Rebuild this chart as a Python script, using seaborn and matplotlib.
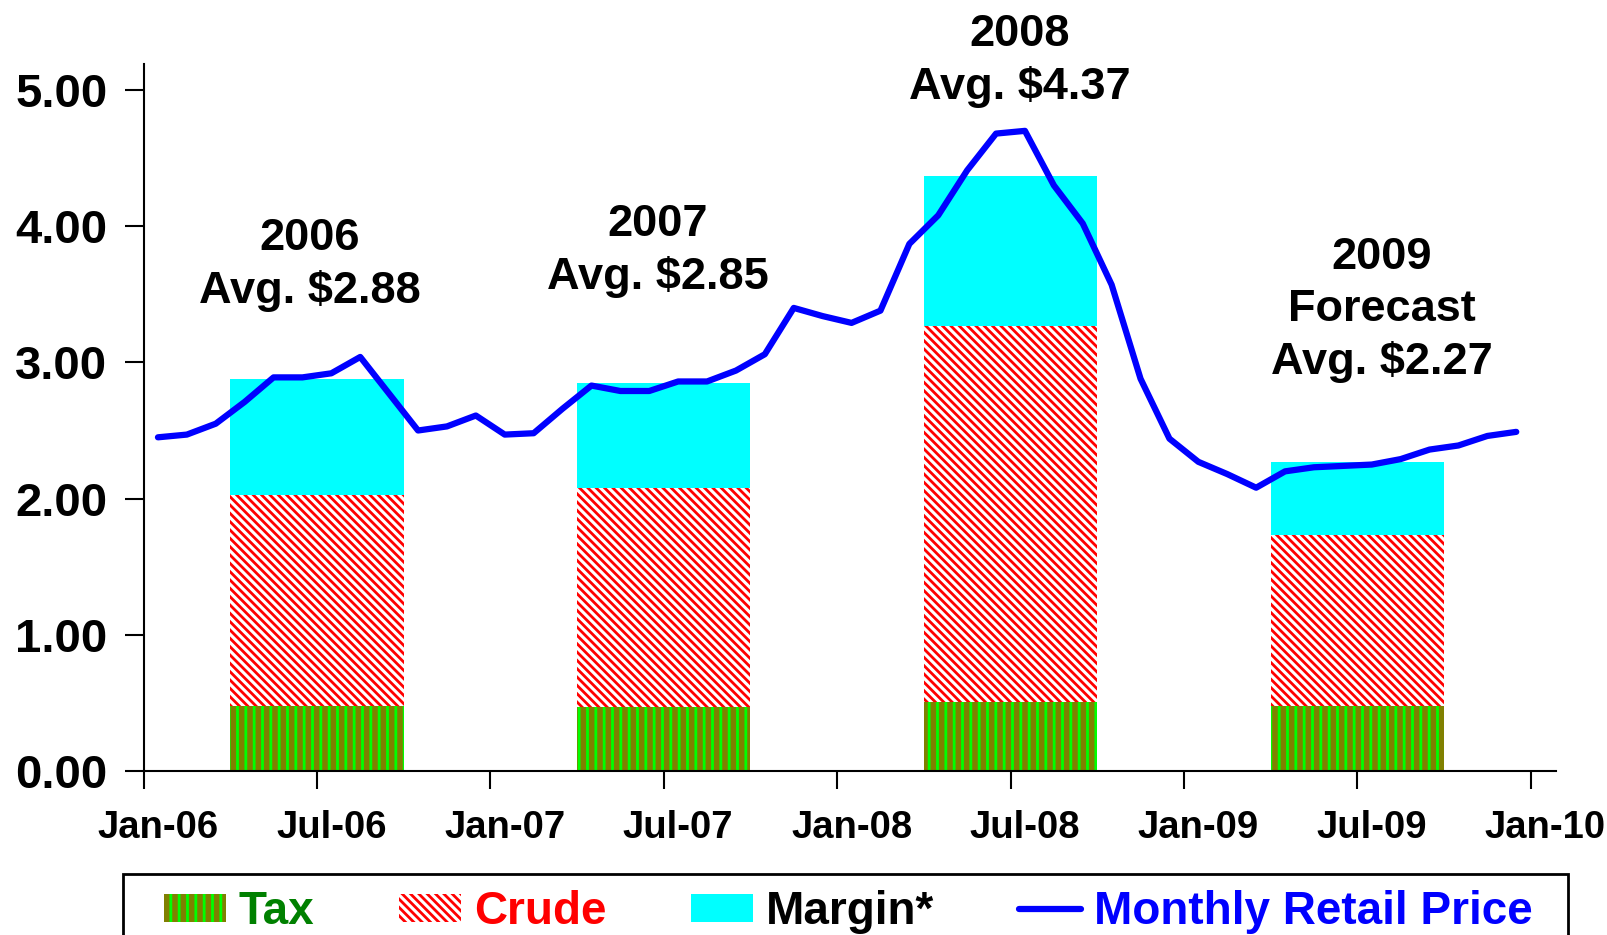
import numpy as np
import pandas as pd
import seaborn as sns
import matplotlib.pyplot as plt
from matplotlib.patches import Patch, Rectangle
from matplotlib.lines import Line2D

# monthly retail price, Jan-06 .. Dec-09
months = pd.date_range('2006-01-01', periods=48, freq='MS')
price = [2.45, 2.47, 2.55, 2.71, 2.89, 2.89, 2.92, 3.04, 2.77, 2.50, 2.53, 2.61,
         2.47, 2.48, 2.66, 2.83, 2.79, 2.79, 2.86, 2.86, 2.94, 3.06, 3.40, 3.34,
         3.29, 3.38, 3.87, 4.08, 4.41, 4.68, 4.70, 4.30, 4.02, 3.57, 2.88, 2.44,
         2.27, 2.18, 2.08, 2.20, 2.23, 2.24, 2.25, 2.29, 2.36, 2.39, 2.46, 2.49]

# yearly average breakdown
years = ['2006', '2007', '2008', '2009']
bar_month = [6, 18, 30, 42]   # month index of bar centre (Jul of each year)
tax = [0.48, 0.47, 0.51, 0.48]
crude = [1.55, 1.61, 2.76, 1.25]
margin = [0.85, 0.77, 1.10, 0.54]
notes = ['2006\nAvg. $2.88', '2007\nAvg. $2.85', '2008\nAvg. $4.37',
         '2009\nForecast\nAvg. $2.27']

tick_labels = ['Jan-06', 'Jul-06', 'Jan-07', 'Jul-07', 'Jan-08',
               'Jul-08', 'Jan-09', 'Jul-09', 'Jan-10']

sns.set_theme(style='ticks')
plt.rcParams['font.family'] = ['Liberation Sans', 'DejaVu Sans']
plt.rcParams['font.weight'] = 'bold'
plt.rcParams['hatch.linewidth'] = 2.0

W, H = 1607, 935
fig = plt.figure(figsize=(W / 100, H / 100), dpi=100)
ax = fig.add_axes([143.5 / W, 1 - 771 / H, (1556 - 143.5) / W, (771 - 64) / H])

df = pd.DataFrame({'year': years, 'x': bar_month, 'tax': tax,
                   'crude': crude, 'margin': margin})
df['crude_top'] = df['tax'] + df['crude']
df['total'] = df['crude_top'] + df['margin']

CRUDE_HATCH = '\\\\\\\\'
TAX_HATCH = '||'

# overlapping cumulative bars = stacked look
sns.barplot(data=df, x='x', y='total', native_scale=True, width=0.5,
            color='cyan', saturation=1, errorbar=None, ax=ax)
n0 = len(ax.patches)
sns.barplot(data=df, x='x', y='crude_top', native_scale=True, width=0.5,
            color='white', saturation=1, errorbar=None, ax=ax)
for p in ax.patches[n0:]:
    p.set_facecolor('white')
    p.set_edgecolor('red')
    p.set_hatch(CRUDE_HATCH)
    p.set_linewidth(0)
n1 = len(ax.patches)
sns.barplot(data=df, x='x', y='tax', native_scale=True, width=0.5,
            color='#808000', saturation=1, errorbar=None, ax=ax)
for p in ax.patches[n1:]:
    p.set_facecolor('#808000')
    p.set_edgecolor('#00ff00')
    p.set_hatch(TAX_HATCH)
    p.set_linewidth(0)
for p in ax.patches[:n0]:
    p.set_linewidth(0)

line_df = pd.DataFrame({'month': months, 'pos': np.arange(len(months)) + 0.5,
                        'price': price})
sns.lineplot(data=line_df, x='pos', y='price', color='blue', linewidth=4.5,
             ax=ax, zorder=5)

ax.set_xlim(0, (1556 - 143.5) / 28.9)
ax.set_ylim(0, (771 - 64) / 136.2)
ax.set_xlabel('')
ax.set_ylabel('')

ax.set_xticks(np.arange(0, 49, 6))
ax.set_xticklabels([])
ax.set_xticks(np.arange(0, 49, 6) + 0.5, minor=True)
ax.set_xticklabels(tick_labels, minor=True)
ax.tick_params(axis='x', which='major', length=13, width=1.5, color='black')
ax.tick_params(axis='x', which='minor', length=0, pad=28, labelsize=27.5)
ax.set_yticks(np.arange(0, 5.01, 1))
ax.set_yticklabels([f'{v:.2f}' for v in np.arange(0, 5.01, 1)])
ax.tick_params(axis='y', length=14, width=1.5, color='black', pad=12, labelsize=34)
for lab in ax.get_xticklabels(minor=True) + ax.get_yticklabels():
    lab.set_fontweight('bold')
    lab.set_color('black')

sns.despine(ax=ax)
for s in ['left', 'bottom']:
    ax.spines[s].set_color('black')
    ax.spines[s].set_linewidth(1.5)

note_xy = [(5.74, 3.715), (17.8, 3.82), (30.33, 5.215), (42.84, 3.385)]
for (x, y), s in zip(note_xy, notes):
    ax.text(x, y, s, ha='center', va='center', fontsize=32.5, fontweight='bold',
            color='black', linespacing=1.34, clip_on=False)

# legend box runs off the bottom of the picture
fig.add_artist(Rectangle((123 / W, -0.05), (1568 - 123) / W, (935 - 874) / H + 0.05,
                         transform=fig.transFigure, fill=False, ec='black',
                         lw=2, clip_on=False))
handles = [Patch(facecolor='#808000', edgecolor='#00ff00', hatch=TAX_HATCH, lw=0),
           Patch(facecolor='white', edgecolor='red', hatch=CRUDE_HATCH, lw=0),
           Patch(facecolor='cyan', edgecolor='cyan', lw=0),
           Line2D([], [], color='blue', lw=4.5)]
labels = ['Tax', 'Crude', 'Margin*', 'Monthly Retail Price']
leg = fig.legend(handles, labels, loc='center left',
                 bbox_to_anchor=(164 / W, 1 - 912 / H), ncol=4, frameon=False,
                 fontsize=33, handlelength=1.35, handleheight=0.57,
                 handletextpad=0.28, columnspacing=1.85, borderpad=0,
                 borderaxespad=0)
for t, c in zip(leg.get_texts(), ['green', 'red', 'black', 'blue']):
    t.set_color(c)
    t.set_fontweight('bold')

fig.savefig('out.png', dpi=100)
